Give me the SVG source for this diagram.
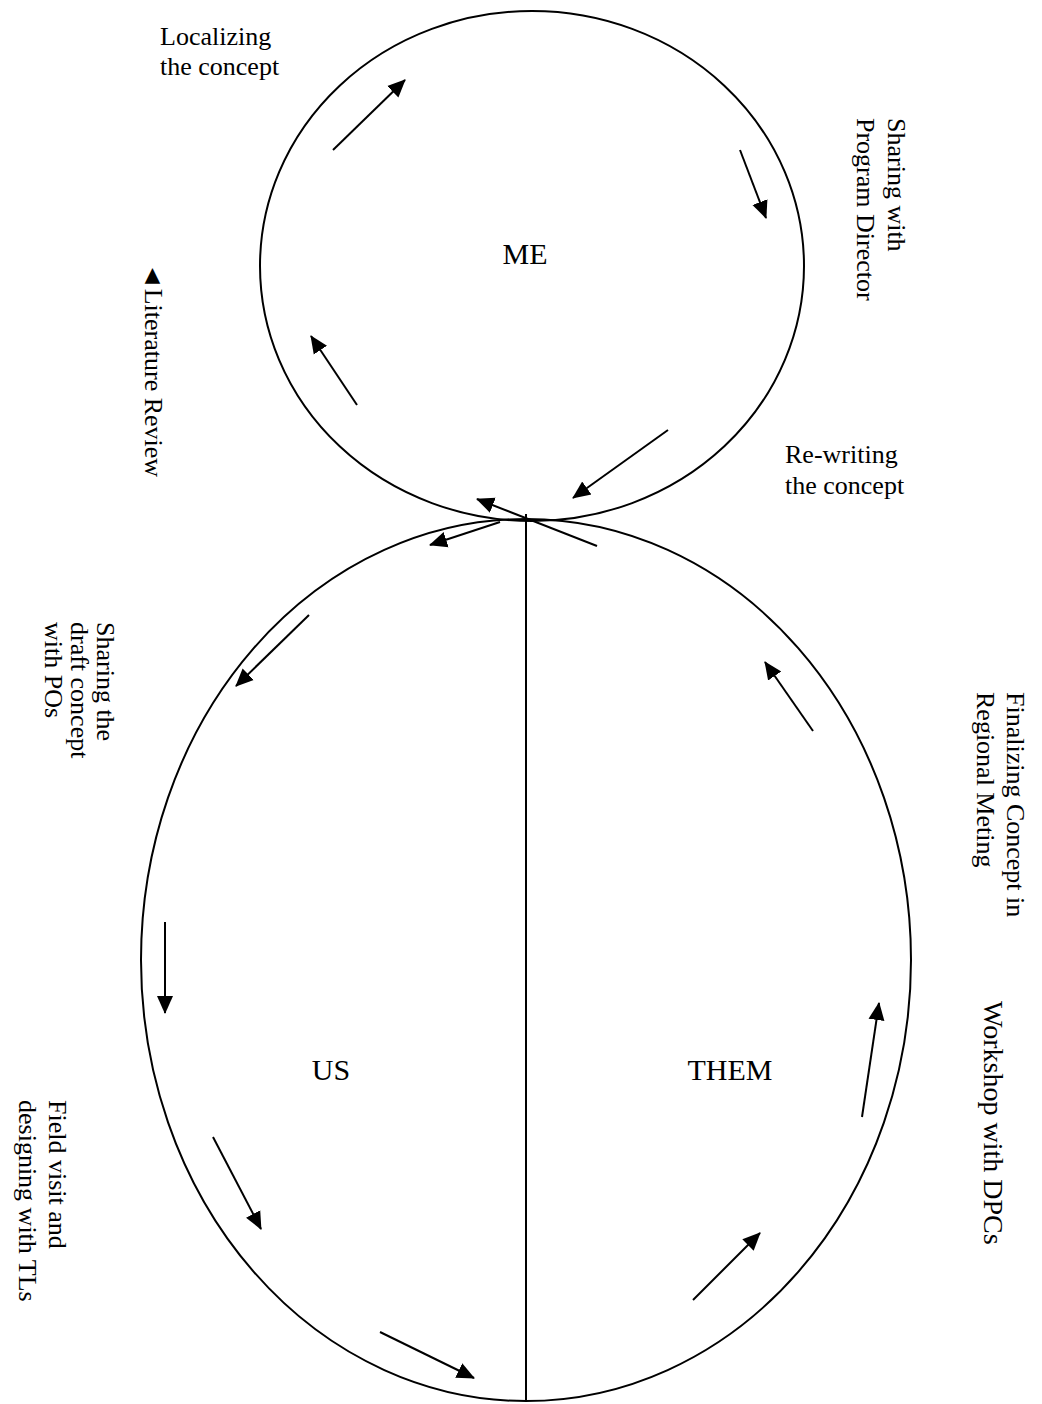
<svg xmlns="http://www.w3.org/2000/svg" width="1042" height="1404" viewBox="0 0 1042 1404">
  <style>
    .shape { fill: none; stroke: #000; stroke-width: 2; }
    .conn { stroke: #000; stroke-width: 2; fill: none; marker-end: url(#head); }
    .lbl { font-family: "Liberation Serif", "Times New Roman", serif; font-size: 26px; fill: #000; }
    .big { font-family: "Liberation Serif", "Times New Roman", serif; font-size: 30px; fill: #000; text-anchor: middle; }
  </style>
  <defs>
    <marker id="head" markerUnits="userSpaceOnUse" markerWidth="18" markerHeight="18" refX="17" refY="8" orient="auto" viewBox="0 0 18 16">
      <path d="M0,0 L18,8 L0,16 z" fill="#000"/>
    </marker>
  </defs>
  <rect width="1042" height="1404" fill="#fff"/>

  <!-- ME circle -->
  <g id="node-me">
    <ellipse class="shape" cx="532" cy="266" rx="272" ry="255"/>
    <text class="big" x="525" y="264">ME</text>
  </g>

  <!-- US / THEM ellipse, split by a vertical line -->
  <g id="node-us-them">
    <ellipse class="shape" cx="526" cy="960" rx="385" ry="441"/>
    <line class="shape" x1="526" y1="514" x2="526" y2="1401"/>
  </g>
  <g id="node-us">
    <text class="big" x="331" y="1080">US</text>
  </g>
  <g id="node-them">
    <text class="big" x="730" y="1080">THEM</text>
  </g>

  <!-- step labels -->
  <g id="label-localizing">
    <text class="lbl" x="160" y="45">Localizing</text>
    <text class="lbl" x="160" y="75">the concept</text>
  </g>
  <g id="label-sharing-pd">
    <text class="lbl" transform="translate(888,118) rotate(90)">Sharing with</text>
    <text class="lbl" transform="translate(857,118) rotate(90)">Program Director</text>
  </g>
  <g id="label-literature">
    <text class="lbl" transform="translate(145,263) rotate(90)">◄Literature Review</text>
  </g>
  <g id="label-rewriting">
    <text class="lbl" x="785" y="463">Re-writing</text>
    <text class="lbl" x="785" y="494">the concept</text>
  </g>
  <g id="label-sharing-pos">
    <text class="lbl" transform="translate(97,622) rotate(90)">Sharing the</text>
    <text class="lbl" transform="translate(71,622) rotate(90)">draft concept</text>
    <text class="lbl" transform="translate(45,622) rotate(90)">with POs</text>
  </g>
  <g id="label-finalizing">
    <text class="lbl" transform="translate(1007,692) rotate(90)">Finalizing Concept in</text>
    <text class="lbl" transform="translate(977,692) rotate(90)">Regional Meting</text>
  </g>
  <g id="label-workshop">
    <text class="lbl" style="font-size:28px" transform="translate(984,1001) rotate(90)">Workshop with DPCs</text>
  </g>
  <g id="label-field">
    <text class="lbl" transform="translate(49,1100) rotate(90)">Field visit and</text>
    <text class="lbl" transform="translate(19,1100) rotate(90)">designing with TLs</text>
  </g>

  <!-- flow arrows -->
  <g id="connectors">
    <line class="conn" x1="333" y1="150" x2="405" y2="80"/>
    <line class="conn" x1="740" y1="150" x2="766" y2="218"/>
    <line class="conn" x1="668" y1="430" x2="573" y2="498"/>
    <line class="conn" x1="357" y1="405" x2="311" y2="336"/>
    <line class="conn" x1="597" y1="546" x2="477" y2="499"/>
    <line class="conn" x1="500" y1="522" x2="430" y2="545"/>
    <line class="conn" x1="309" y1="615" x2="236" y2="686"/>
    <line class="conn" x1="165" y1="922" x2="165" y2="1013"/>
    <line class="conn" x1="213" y1="1137" x2="261" y2="1229"/>
    <line class="conn" x1="380" y1="1332" x2="474" y2="1378"/>
    <line class="conn" x1="693" y1="1300" x2="760" y2="1233"/>
    <line class="conn" x1="862" y1="1117" x2="879" y2="1003"/>
    <line class="conn" x1="813" y1="731" x2="765" y2="662"/>
  </g>
</svg>
